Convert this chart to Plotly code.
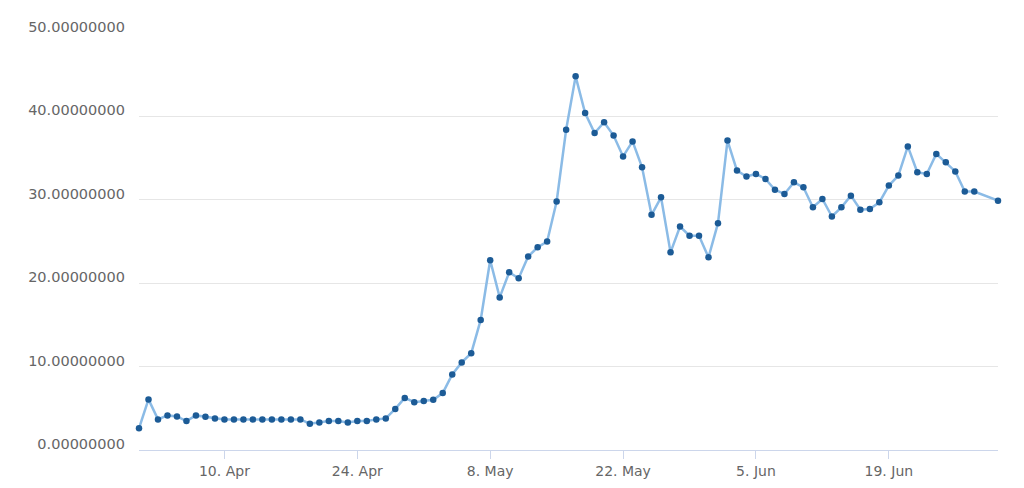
import pandas as pd
import plotly.graph_objects as go

# Daily observations starting 1 Apr, the final one taken at midday on 30 Jun
start_date = "2017-04-01"
last_timestamp = "2017-06-30 12:00"

values = [
    2.60, 6.07, 3.67, 4.15, 4.03, 3.47, 4.15, 3.99, 3.79, 3.67,
    3.67, 3.67, 3.67, 3.67, 3.67, 3.67, 3.67, 3.67, 3.15, 3.31,
    3.47, 3.47, 3.31, 3.47, 3.47, 3.67, 3.79, 4.93, 6.25, 5.73,
    5.87, 6.03, 6.83, 9.06, 10.50, 11.60, 15.60, 22.75, 18.30, 21.30,
    20.60, 23.20, 24.30, 25.00, 29.80, 38.40, 44.80, 40.40, 38.00, 39.30,
    37.70, 35.20, 37.00, 33.90, 28.20, 30.30, 23.70, 26.80, 25.70, 25.70,
    23.10, 27.20, 37.10, 33.50, 32.80, 33.10, 32.50, 31.20, 30.70, 32.10,
    31.50, 29.10, 30.10, 28.00, 29.10, 30.50, 28.80, 28.90, 29.70, 31.70,
    32.90, 36.40, 33.30, 33.10, 35.50, 34.50, 33.40, 31.00, 31.00, 29.90,
]

dates = list(pd.date_range(start_date, periods=len(values) - 1, freq="D")) + [pd.Timestamp(last_timestamp)]

x_tick_dates = ["2017-04-10", "2017-04-24", "2017-05-08", "2017-05-22", "2017-06-05", "2017-06-19"]
x_tick_labels = ["10. Apr", "24. Apr", "8. May", "22. May", "5. Jun", "19. Jun"]

y_tick_values = [0, 10, 20, 30, 40, 50]
y_tick_labels = ["0.00000000", "10.00000000", "20.00000000", "30.00000000", "40.00000000", "50.00000000"]

fig = go.Figure()
fig.add_trace(go.Scatter(
    x=dates,
    y=values,
    mode="lines+markers",
    line=dict(color="#8bbbe6", width=2.5),
    marker=dict(color="#1c5b96", size=6.5, line=dict(width=0)),
    cliponaxis=False,
    hoverinfo="skip",
))

font_family = "DejaVu Sans"
# page body adds an 8px offset, so the figure is sized to sit inside the window
fig.update_layout(
    width=1008,
    height=472,
    margin=dict(l=131, r=18, t=25, b=30),
    paper_bgcolor="white",
    plot_bgcolor="white",
    showlegend=False,
    font=dict(family=font_family, size=14, color="#666666"),
    xaxis=dict(
        type="date",
        range=[dates[0], dates[-1]],
        tickvals=x_tick_dates,
        ticktext=x_tick_labels,
        showgrid=False,
        zeroline=False,
        showline=True,
        linecolor="#ccd6eb",
        linewidth=1,
        ticks="outside",
        ticklen=8,
        tickcolor="#ccd6eb",
        tickfont=dict(family=font_family, size=14, color="#666666"),
        automargin=False,
        fixedrange=True,
    ),
    yaxis=dict(
        range=[0, 50],
        tickvals=y_tick_values,
        ticktext=y_tick_labels,
        showgrid=True,
        gridcolor="#e6e6e6",
        gridwidth=1,
        zeroline=False,
        showline=False,
        ticks="",
        ticklabelstandoff=13,
        ticklabelshift=-6,
        tickfont=dict(family=font_family, size=14.5, color="#666666"),
        automargin=False,
        fixedrange=True,
    ),
)

fig.write_html("out.html")
